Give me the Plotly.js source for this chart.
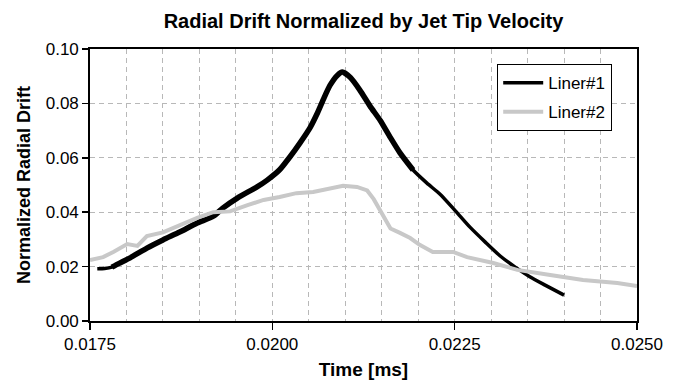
<!DOCTYPE html>
<html>
<head>
<meta charset="utf-8">
<script src="https://cdn.plot.ly/plotly-3.0.1.min.js"></script>
<style>html,body{margin:0;padding:0;background:#fff;}#chart{width:679px;height:380px;}</style>
</head>
<body>
<div id="chart"></div>
<script>
// Liner#1 (black)
const liner1Time = [0.01760,0.01770,0.01780,0.01790,0.01805,0.01828,0.01850,0.01873,0.01897,0.01919,
  0.01932,0.01952,0.01979,0.01993,0.02010,0.02024,0.02038,0.02052,0.02061,0.02070,
  0.02079,0.02089,0.02096,0.02107,0.02120,0.02134,0.02148,0.02161,0.02175,0.02193,
  0.02212,0.02230,0.02251,0.02271,0.02292,0.02312,0.02333,0.02353,0.02374,0.02400];
const liner1Drift = [0.0192,0.0193,0.0198,0.0212,0.0232,0.0268,0.0298,0.0327,0.0360,0.0385,
  0.0415,0.0452,0.0493,0.0518,0.0556,0.0603,0.0655,0.0712,0.0760,0.0815,
  0.0866,0.0903,0.0915,0.0895,0.0849,0.0790,0.0737,0.0678,0.0618,0.0555,
  0.0507,0.0466,0.0405,0.0345,0.0290,0.0240,0.0198,0.0163,0.0132,0.0095];
// Liner#2 (grey)
const liner2Time = [0.01750,0.01768,0.01782,0.01801,0.01815,0.01828,0.01850,0.01873,0.01897,0.01919,
  0.01942,0.01966,0.01988,0.02010,0.02033,0.02056,0.02079,0.02097,0.02116,0.02130,
  0.02139,0.02148,0.02162,0.02175,0.02189,0.02202,0.02220,0.02248,0.02267,0.02303,
  0.02336,0.02381,0.02426,0.02473,0.02500];
const liner2Drift = [0.0224,0.0235,0.0254,0.0283,0.0276,0.0312,0.0326,0.0353,0.0379,0.0400,
  0.0403,0.0426,0.0445,0.0456,0.0470,0.0474,0.0485,0.0497,0.0493,0.0480,
  0.0448,0.0408,0.0340,0.0324,0.0305,0.0280,0.0254,0.0254,0.0235,0.0213,
  0.0188,0.0169,0.0151,0.0140,0.0129];
const seriesNames = ['Liner#1','Liner#2'];
const xTickVals = [0.0175,0.0200,0.0225,0.0250];
const yTickVals = [0.00,0.02,0.04,0.06,0.08,0.10];

const FONT = 'Liberation Sans, Arial, sans-serif';
const GRID = '#b8b8b8';
const traces = [
  {x: liner1Time, y: liner1Drift, name: seriesNames[0], mode: 'lines', legendgroup: 'a',
   line: {color: '#000000', width: 3.5, shape: 'spline', smoothing: 0.6}},
  {x: liner1Time.slice(2, 30), y: liner1Drift.slice(2, 30), mode: 'lines', legendgroup: 'a', showlegend: false,
   line: {color: '#000000', width: 5.5, shape: 'spline', smoothing: 0.6}, hoverinfo: 'skip'},
  {x: liner2Time, y: liner2Drift, name: seriesNames[1], mode: 'lines', legendgroup: 'b',
   line: {color: '#c8c8c8', width: 4}}
];
const layout = {
  width: 679, height: 380,
  margin: {l: 90, r: 42, t: 49, b: 59, pad: 0},
  paper_bgcolor: '#ffffff', plot_bgcolor: '#ffffff',
  font: {family: FONT, color: '#000', size: 17},
  showlegend: true,
  title: {text: '<b>Radial Drift Normalized by Jet Tip Velocity</b>', font: {family: FONT, size: 20, color: '#000'},
          x: 0.5, xref: 'paper', xanchor: 'center', y: 1 - 21/380, yref: 'container', yanchor: 'middle'},
  xaxis: {
    range: [0.0175, 0.025], tickmode: 'array', tickvals: xTickVals, tickformat: '.4f',
    ticks: 'outside', ticklen: 7, tickwidth: 1.5, tickcolor: '#000',
    showline: true, linecolor: '#000', linewidth: 1.8, mirror: true,
    showgrid: true, gridcolor: GRID, gridwidth: 1, griddash: '5px,4px',
    minor: {tick0: 0.0175, dtick: 0.0005, showgrid: true, gridcolor: GRID, gridwidth: 1, griddash: '5px,4px', ticks: ''},
    zeroline: false, tickfont: {size: 17, family: FONT},
    title: {text: '<b>Time [ms]</b>', font: {size: 19, family: FONT}, standoff: 12}
  },
  yaxis: {
    range: [0, 0.1], tickmode: 'array', tickvals: yTickVals, tickformat: '.2f',
    ticks: 'outside', ticklen: 6, tickwidth: 1.5, tickcolor: '#000',
    showline: true, linecolor: '#000', linewidth: 1.8, mirror: true,
    showgrid: true, gridcolor: GRID, gridwidth: 1, griddash: '5px,4px',
    zeroline: false, tickfont: {size: 17, family: FONT},
    title: {text: '<b>Normalized Radial Drift</b>', font: {size: 18, family: FONT}, standoff: 10}
  },
  legend: {x: (497-90)/547, y: (321-64)/272, xanchor: 'left', yanchor: 'top',
    bgcolor: '#ffffff', bordercolor: '#000', borderwidth: 1.2,
    font: {size: 17, family: FONT}, tracegroupgap: 4, itemwidth: 40}
};
Plotly.newPlot('chart', traces, layout, {displayModeBar: false, staticPlot: true});
</script>
</body>
</html>
